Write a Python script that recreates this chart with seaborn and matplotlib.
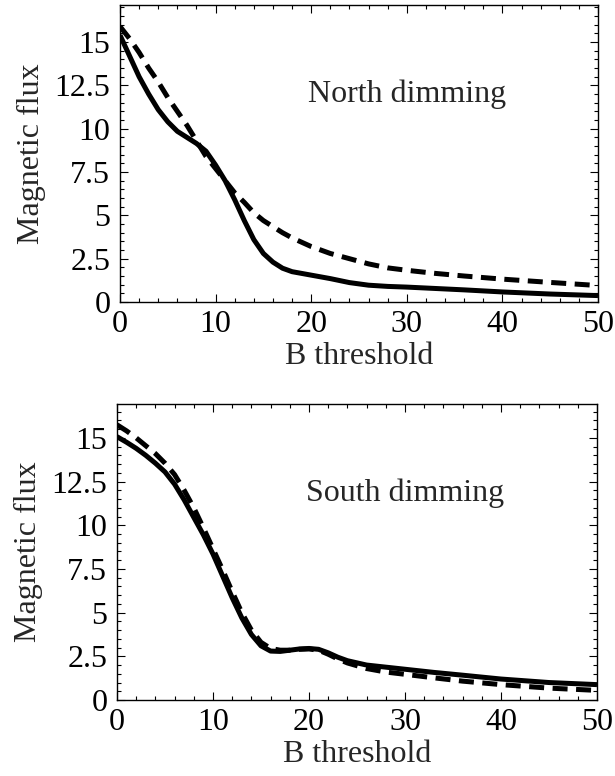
import matplotlib
matplotlib.use("Agg")
import matplotlib.pyplot as plt
from matplotlib.ticker import MultipleLocator, FixedLocator
import seaborn as sns
import pandas as pd

# ---- data ----
b_north = [0, 1, 2, 3, 4, 5, 6, 7, 8, 9, 10, 11, 12, 13, 14, 15, 16, 17, 18, 19,
           20, 22, 24, 26, 28, 30, 33, 36, 40, 45, 50]
north_solid = [15.4, 14.2, 13.0, 12.0, 11.1, 10.4, 9.85, 9.5, 9.15, 8.7, 7.9, 7.0,
               5.9, 4.7, 3.6, 2.8, 2.3, 1.95, 1.75, 1.65, 1.55, 1.35, 1.12, 0.97,
               0.9, 0.86, 0.78, 0.7, 0.58, 0.46, 0.37]
north_dashed = [15.9, 15.2, 14.4, 13.5, 12.7, 11.8, 11.0, 10.2, 9.3, 8.4, 7.7, 7.0,
                6.3, 5.75, 5.15, 4.7, 4.35, 4.0, 3.7, 3.45, 3.2, 2.8, 2.5, 2.2,
                1.97, 1.83, 1.65, 1.5, 1.32, 1.13, 0.95]

b_south = [0, 1, 2, 3, 4, 5, 6, 7, 8, 9, 10, 11, 12, 13, 14, 15, 16, 17, 18, 19,
           20, 21, 22, 23, 24, 26, 28, 30, 33, 36, 40, 45, 50]
south_solid = [15.07, 14.75, 14.4, 14.0, 13.55, 13.05, 12.35, 11.45, 10.45, 9.45,
               8.35, 7.1, 5.85, 4.7, 3.75, 3.1, 2.8, 2.78, 2.85, 2.92, 2.95, 2.9,
               2.7, 2.45, 2.25, 2.0, 1.88, 1.76, 1.58, 1.42, 1.2, 1.0, 0.88]
south_dashed = [15.75, 15.4, 15.0, 14.55, 14.1, 13.55, 12.9, 12.0, 11.0, 9.85,
                8.65, 7.45, 6.2, 5.0, 4.0, 3.3, 2.95, 2.85, 2.85, 2.9, 2.92, 2.85,
                2.62, 2.35, 2.12, 1.8, 1.6, 1.47, 1.27, 1.08, 0.88, 0.68, 0.55]

x_ticks = [0, 10, 20, 30, 40, 50]
y_ticks = [0, 2.5, 5, 7.5, 10, 12.5, 15]
y_ticklabels = ["0", "2.5", "5", "7.5", "10", "12.5", "15"]
titles = ["North dimming", "South dimming"]
x_label = "B threshold"
y_label = "Magnetic flux"

# ---- style ----
sns.set_style("ticks")
plt.rcParams["font.family"] = ["Liberation Serif", "DejaVu Serif"]
FS = 23

fig = plt.figure(figsize=(6.15, 7.76), dpi=100)
ax_top = fig.add_axes([120 / 615, 1 - 302 / 776, 478 / 615, 297 / 776])
ax_bot = fig.add_axes([117 / 615, 1 - 700 / 776, 480 / 615, 296 / 776])

panels = [
    (ax_top, b_north, north_solid, north_dashed, titles[0], 17.14, 11.55),
    (ax_bot, b_south, south_solid, south_dashed, titles[1], 16.94, 11.4),
]

for ax, bx, ys, yd, title, ytop, ty in panels:
    df_s = pd.DataFrame({"B": bx, "flux": ys})
    df_d = pd.DataFrame({"B": bx, "flux": yd})
    sns.lineplot(data=df_s, x="B", y="flux", ax=ax, color="black", lw=3.6,
                 solid_capstyle="butt", estimator=None, sort=False)
    line_d = sns.lineplot(data=df_d, x="B", y="flux", ax=ax, color="black",
                          lw=3.6, estimator=None, sort=False).lines[-1]
    line_d.set_dashes((3.0, 1.7))
    line_d.set_dash_capstyle("butt")

    ax.set_xlim(0, 50)
    ax.set_ylim(0, ytop)
    ax.xaxis.set_major_locator(FixedLocator(x_ticks))
    ax.xaxis.set_minor_locator(MultipleLocator(2))
    ax.yaxis.set_major_locator(FixedLocator(y_ticks))
    ax.yaxis.set_minor_locator(MultipleLocator(0.5))
    ax.set_xticklabels([str(t) for t in x_ticks])
    ax.set_yticklabels(y_ticklabels)
    ax.tick_params(which="both", direction="in", top=True, right=True,
                   labelsize=FS, width=0.8, colors="black")
    ax.tick_params(which="major", length=6)
    ax.tick_params(which="minor", length=3)
    ax.tick_params(axis="x", pad=6)
    ax.tick_params(axis="y", pad=7)
    for sp in ax.spines.values():
        sp.set_visible(True)
        sp.set_linewidth(1.0)
        sp.set_color("black")
    ax.set_xlabel(x_label, fontsize=FS, labelpad=2)
    ax.set_ylabel(y_label, fontsize=FS, labelpad=6)
    ax.text(30, ty, title, fontsize=FS, ha="center", va="baseline")

fig.savefig("out.png", dpi=100)
